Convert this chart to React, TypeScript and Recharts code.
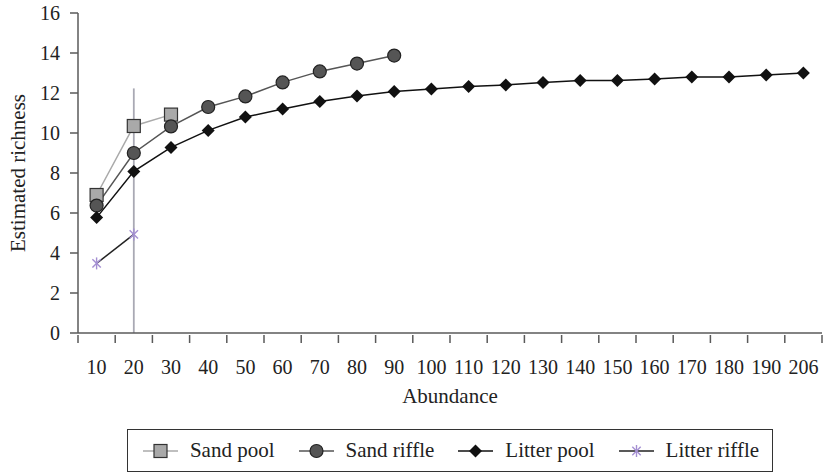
import React from 'react';
import {
    LineChart, Line, XAxis, YAxis, Legend, ReferenceLine,
} from 'recharts';

// abundance categories on the x axis
const abundance = ['10', '20', '30', '40', '50', '60', '70', '80', '90', '100',
    '110', '120', '130', '140', '150', '160', '170', '180', '190', '206'];

const sandPool = [6.9, 10.35, 10.92];
const sandRiffle = [6.37, 9.0, 10.33, 11.3, 11.83, 12.53, 13.08, 13.47, 13.87];
const litterPool = [5.77, 8.08, 9.28, 10.13, 10.8, 11.2, 11.57, 11.85, 12.07, 12.2,
    12.33, 12.4, 12.52, 12.63, 12.63, 12.7, 12.8, 12.8, 12.9, 13.0];
const litterRiffle = [3.48, 4.93];

const yTicks = [0, 2, 4, 6, 8, 10, 12, 14, 16];

// vertical grey line at abundance 20
const markerX = '20';
const markerTop = 12.23;

const data = abundance.map((a, i) => ({
    abundance: a,
    sandPool: sandPool[i],
    sandRiffle: sandRiffle[i],
    litterPool: litterPool[i],
    litterRiffle: litterRiffle[i],
}));

const W = 824;
const H = 476;
const LEFT = 78;
const RIGHT = 2;
const STEP = (W - LEFT - RIGHT) / abundance.length;
const FONT = '"Liberation Serif", "Times New Roman", Tinos, FreeSerif, serif';
const AXIS = '#5a5a5a';
const TXT = '#222';

const SquareDot = (props: any) => {
    const { cx, cy, value } = props;
    if (value == null || cx == null) return null;
    return <rect x={cx - 6.5} y={cy - 6.5} width={13} height={13} fill="#a9a9a9" stroke="#333" strokeWidth={1.2} />;
};

const CircleDot = (props: any) => {
    const { cx, cy, value } = props;
    if (value == null || cx == null) return null;
    return <circle cx={cx} cy={cy} r={6.5} fill="#555" stroke="#222" strokeWidth={1.2} />;
};

const DiamondDot = (props: any) => {
    const { cx, cy, value } = props;
    if (value == null || cx == null) return null;
    const r = 6.5;
    return <polygon points={`${cx},${cy - r} ${cx + r},${cy} ${cx},${cy + r} ${cx - r},${cy}`} fill="#111" />;
};

const StarDot = (props: any) => {
    const { cx, cy, value } = props;
    if (value == null || cx == null) return null;
    const r = 6;
    const d = r * 0.7;
    return (
        <g stroke="#a48fd2" strokeWidth={1.4}>
            <line x1={cx - d} y1={cy - d} x2={cx + d} y2={cy + d} />
            <line x1={cx - d} y1={cy + d} x2={cx + d} y2={cy - d} />
            <line x1={cx} y1={cy - r} x2={cx} y2={cy + r} />
        </g>
    );
};

const XTick = (props: any) => {
    const { x, y, payload, index } = props;
    const last = index === abundance.length - 1;
    return (
        <g>
            <line x1={x - STEP / 2} y1={y} x2={x - STEP / 2} y2={y + 8} stroke={AXIS} strokeWidth={1.5} />
            {last && <line x1={x + STEP / 2} y1={y} x2={x + STEP / 2} y2={y + 8} stroke={AXIS} strokeWidth={1.5} />}
            <text x={x} y={y + 39} textAnchor="middle" fontFamily={FONT} fontSize={20} fill={TXT}>
                {payload.value}
            </text>
        </g>
    );
};

const legendItems = [
    { name: 'Sand pool', line: '#aaa', Dot: SquareDot },
    { name: 'Sand riffle', line: '#555', Dot: CircleDot },
    { name: 'Litter pool', line: '#111', Dot: DiamondDot },
    { name: 'Litter riffle', line: '#222', Dot: StarDot },
];

const LegendBox = () => (
    <div style={{ display: 'flex', justifyContent: 'center', paddingTop: 26, paddingLeft: 60 }}>
        <div style={{
            border: '1.5px solid #333', height: 43, boxSizing: 'border-box', display: 'flex',
            alignItems: 'center', padding: '0 13px 0 14px', fontFamily: FONT, fontSize: 21, color: TXT,
        }}>
            {legendItems.map(({ name, line, Dot }, i) => (
                <div key={name} style={{ display: 'flex', alignItems: 'center', marginLeft: i === 0 ? 0 : 23 }}>
                    <svg width={37} height={20}>
                        <line x1={1} y1={10} x2={36} y2={10} stroke={line} strokeWidth={1.5} />
                        <Dot cx={18.5} cy={10} value={1} />
                    </svg>
                    <span style={{ marginLeft: 11 }}>{name}</span>
                </div>
            ))}
        </div>
    </div>
);

export default function App() {
    return (
        <div style={{ position: 'absolute', left: 0, top: 0, background: '#fff', fontFamily: FONT }}>
            <LineChart width={W} height={H} data={data} margin={{ top: 13, right: RIGHT, bottom: 0, left: 18 }}>
                <XAxis
                    dataKey="abundance"
                    stroke={AXIS}
                    strokeWidth={1.5}
                    tickLine={false}
                    tickSize={0}
                    tick={<XTick />}
                    height={70}
                    interval={0}
                    padding={{ left: STEP / 2, right: STEP / 2 }}
                    label={{
                        content: ({ viewBox }: any) => (
                            <text x={viewBox.x + viewBox.width / 2} y={viewBox.y + 70} textAnchor="middle"
                                fontFamily={FONT} fontSize={21} fill={TXT}>Abundance</text>
                        ),
                    }}
                />
                <XAxis xAxisId="top" dataKey="abundance" orientation="top" height={0} tick={false}
                    tickLine={false} stroke={AXIS} strokeWidth={1.5} />
                <YAxis
                    domain={[0, 16]}
                    ticks={yTicks}
                    width={60}
                    stroke={AXIS}
                    strokeWidth={1.5}
                    tickSize={8}
                    tickMargin={10}
                    tick={{ fontFamily: FONT, fontSize: 20, fill: TXT }}
                    label={{
                        content: ({ viewBox }: any) => (
                            <text x={0} y={0} transform={`translate(${viewBox.x},${viewBox.y + viewBox.height / 2}) rotate(-90)`}
                                textAnchor="middle" dominantBaseline="central" fontFamily={FONT} fontSize={21} fill={TXT}>
                                Estimated richness
                            </text>
                        ),
                    }}
                />
                <YAxis yAxisId="right" orientation="right" width={0} domain={[0, 16]} tick={false}
                    tickLine={false} stroke={AXIS} strokeWidth={1.5} />
                <ReferenceLine
                    segment={[{ x: markerX, y: 0 }, { x: markerX, y: markerTop }]}
                    stroke="#a9a9b4"
                    strokeWidth={1.8}
                />
                <Line dataKey="sandPool" stroke="#aaa" strokeWidth={1.5} dot={<SquareDot />} isAnimationActive={false} />
                <Line dataKey="sandRiffle" stroke="#555" strokeWidth={1.5} dot={<CircleDot />} isAnimationActive={false} />
                <Line dataKey="litterPool" stroke="#111" strokeWidth={1.5} dot={<DiamondDot />} isAnimationActive={false} />
                <Line dataKey="litterRiffle" stroke="#222" strokeWidth={1.5} dot={<StarDot />} isAnimationActive={false} />
                <Legend verticalAlign="bottom" height={73} content={<LegendBox />} />
            </LineChart>
        </div>
    );
}
